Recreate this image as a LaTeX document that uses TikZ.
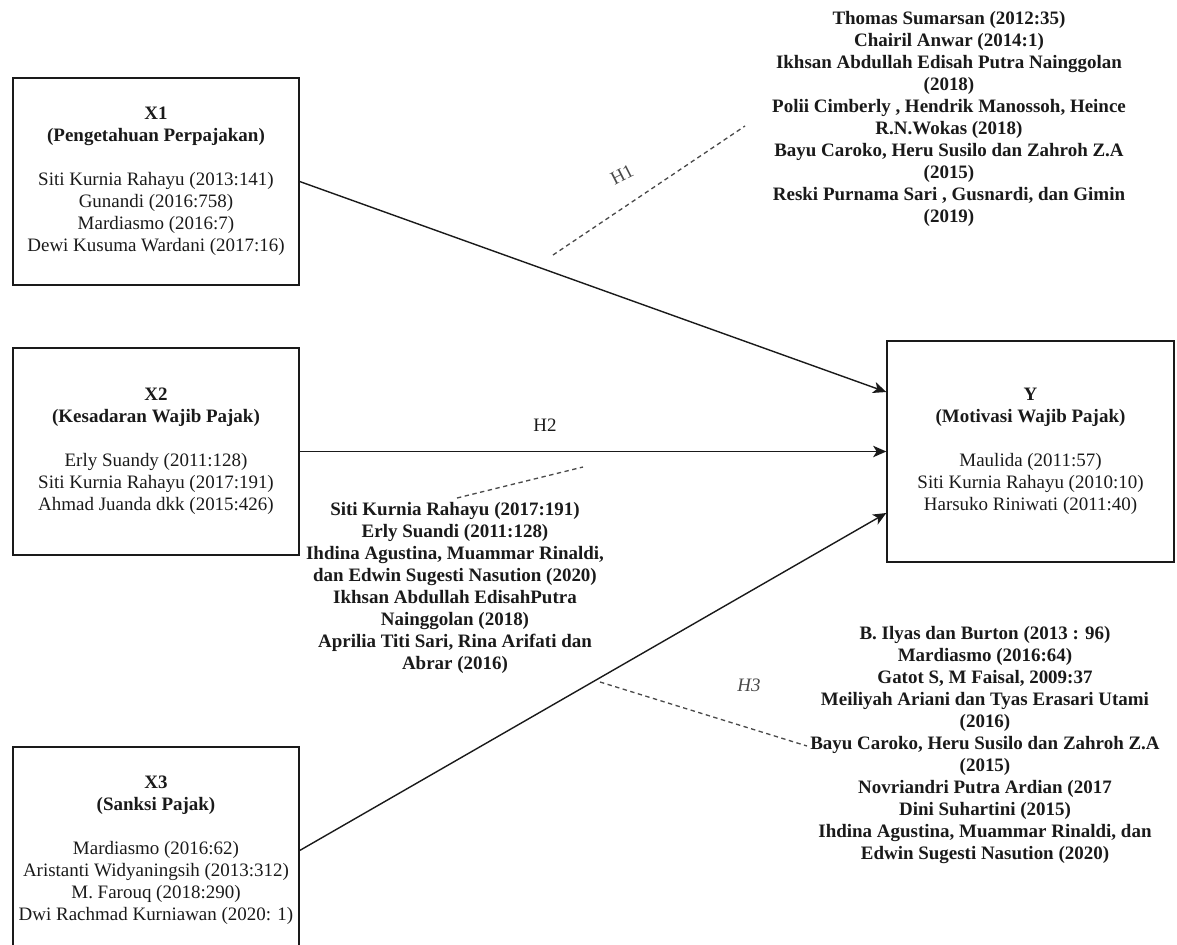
\documentclass[tikz,border=0pt]{standalone}
\usepackage{fontspec}
\setmainfont{Liberation Serif}
\usetikzlibrary{arrows.meta}
\definecolor{diagramink}{HTML}{1A1A1A}
\definecolor{diagrammuted}{HTML}{4A4A4A}

\begin{document}
\begin{tikzpicture}[
  x=0.02cm,
  y=-0.02cm,
  every node/.style={font=\fontsize{10.8}{12.5}\selectfont, text=diagramink},
  varbox/.style={draw=diagramink, line width=0.8pt, minimum width=5.72cm, minimum height=4.14cm, align=center, inner sep=0pt},
  reflist/.style={align=center, inner sep=0pt, font=\fontsize{10.8}{12.5}\selectfont\bfseries},
  link/.style={diagramink, line width=0.8pt, -{Stealth[length=7.5pt, width=6.5pt, inset=2pt]}},
  guide/.style={diagrammuted, line width=0.75pt, dash pattern=on 2.5pt off 2pt},
  hlabel/.style={text=diagrammuted}
]
  \useasboundingbox (0,0) rectangle (1177,944);
  \clip (0,0) rectangle (1177,944);

  % variables
  \node[varbox] (x1) at (156,181.5) {\textbf{X1}\\\textbf{(Pengetahuan Perpajakan)}\\[12.5pt]
    Siti Kurnia Rahayu (2013:141)\\Gunandi (2016:758)\\Mardiasmo (2016:7)\\Dewi Kusuma Wardani (2017:16)};
  \node[varbox] (x2) at (156,451.5) {\textbf{X2}\\\textbf{(Kesadaran Wajib Pajak)}\\[12.5pt]
    Erly Suandy (2011:128)\\Siti Kurnia Rahayu (2017:191)\\Ahmad Juanda dkk (2015:426)};
  \node[varbox] (x3) at (156,850.5) {\textbf{X3}\\\textbf{(Sanksi Pajak)}\\[12.5pt]
    Mardiasmo (2016:62)\\Aristanti Widyaningsih (2013:312)\\M. Farouq (2018:290)\\Dwi Rachmad Kurniawan (2020: 1)};
  \node[varbox, minimum width=5.74cm, minimum height=4.42cm] (y) at (1030.5,451.5) {\textbf{Y}\\\textbf{(Motivasi Wajib Pajak)}\\[12.5pt]
    Maulida (2011:57)\\Siti Kurnia Rahayu (2010:10)\\Harsuko Riniwati (2011:40)};

  \draw[link] (x1.east) -- ([yshift=1.19cm]y.west);
  \draw[link] (x2.east) -- (y.west);
  \draw[link] (x3.east) -- ([yshift=-1.23cm]y.west);

  % hypothesis labels
  \node[hlabel, rotate=27] (h1) at (622,175) {H1};
  \node (h2) at (545,425) {H2};
  \node[hlabel] (h3) at (749,685) {\itshape H3};

  % references
  \node[reflist] (ref1) at (949,119) {Thomas Sumarsan (2012:35)\\Chairil Anwar (2014:1)\\
    Ikhsan Abdullah Edisah Putra Nainggolan\\(2018)\\
    Polii Cimberly , Hendrik Manossoh, Heince\\R.N.Wokas (2018)\\
    Bayu Caroko, Heru Susilo dan Zahroh Z.A\\(2015)\\
    Reski Purnama Sari , Gusnardi, dan Gimin\\(2019)};
  \node[reflist] (ref2) at (455,588) {Siti Kurnia Rahayu (2017:191)\\Erly Suandi (2011:128)\\
    Ihdina Agustina, Muammar Rinaldi,\\dan Edwin Sugesti Nasution (2020)\\
    Ikhsan Abdullah EdisahPutra\\Nainggolan (2018)\\
    Aprilia Titi Sari, Rina Arifati dan\\Abrar (2016)};
  \node[reflist] (ref3) at (985,745) {B. Ilyas dan Burton (2013 : 96)\\Mardiasmo (2016:64)\\
    Gatot S, M Faisal, 2009:37\\Meiliyah Ariani dan Tyas Erasari Utami\\(2016)\\
    Bayu Caroko, Heru Susilo dan Zahroh Z.A\\(2015)\\
    Novriandri Putra Ardian (2017\\Dini Suhartini (2015)\\
    Ihdina Agustina, Muammar Rinaldi, dan\\Edwin Sugesti Nasution (2020)};

  % dashed pointers
  \coordinate (g1a) at (553,255);
  \coordinate (g1b) at (745,126);
  \coordinate (g2a) at (457,498);
  \coordinate (g2b) at (583,467);
  \coordinate (g3a) at (600,682);
  \coordinate (g3b) at (807,746);
  \draw[guide] (g1a) -- (g1b);
  \draw[guide] (g2a) -- (g2b);
  \draw[guide] (g3a) -- (g3b);
\end{tikzpicture}
\end{document}
